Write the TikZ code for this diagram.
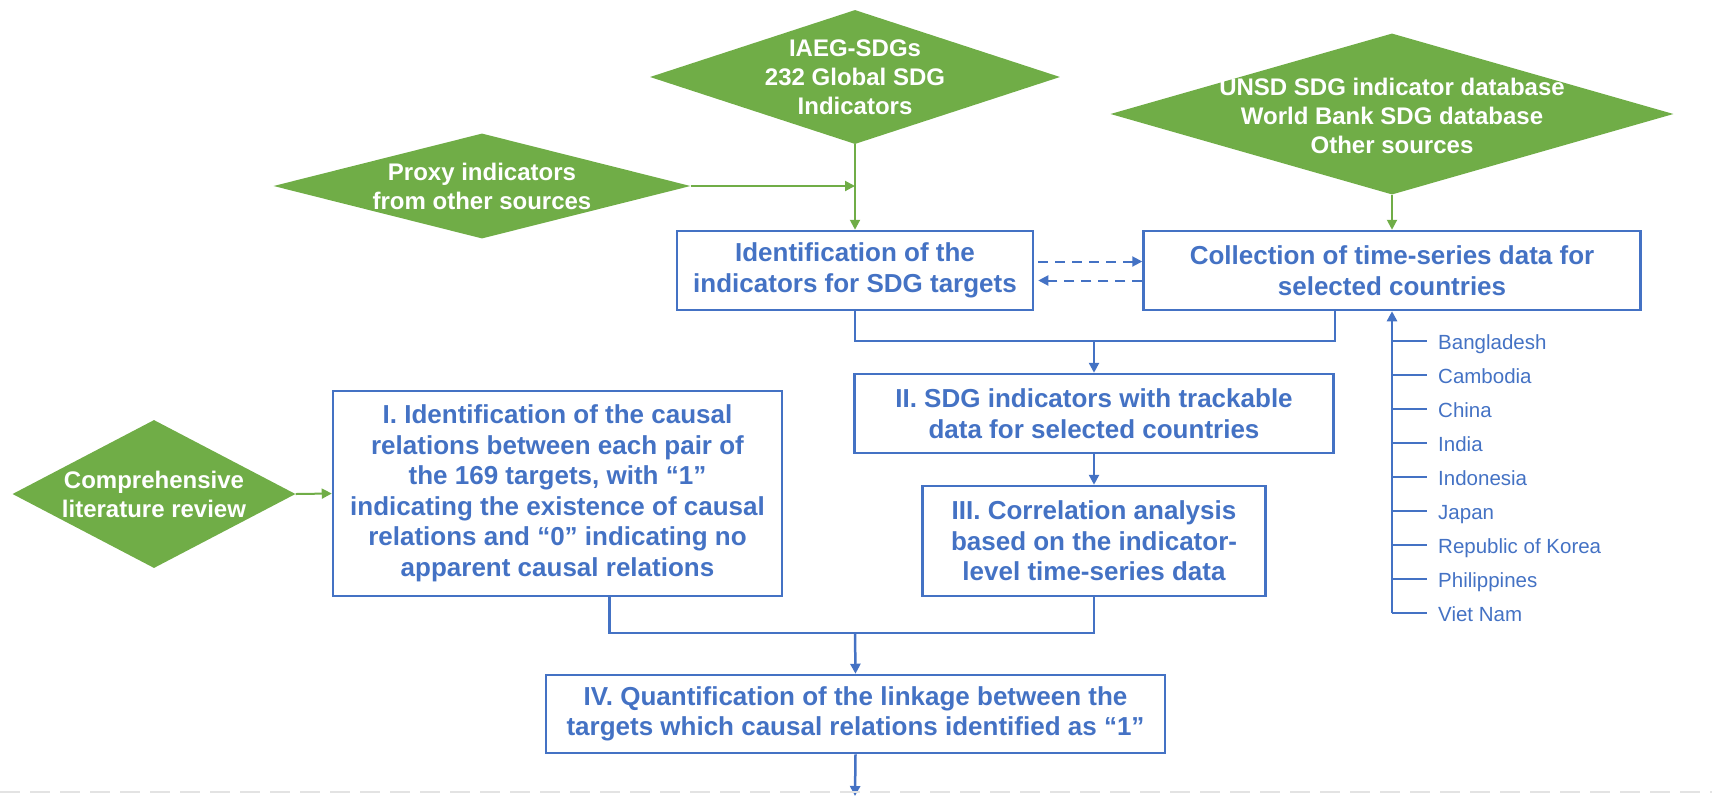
\documentclass[tikz,border=0pt]{standalone}
\usepackage{fontspec}
\setmainfont{Liberation Sans}
\usetikzlibrary{shapes.geometric,arrows.meta}
\definecolor{srcgreen}{HTML}{70AD47}
\definecolor{stepblue}{HTML}{4472C4}

\begin{document}
\begin{tikzpicture}[x=1pt, y=-1pt, >={Triangle[length=10pt,width=10pt]},
		source/.style={diamond, fill=srcgreen, inner sep=0pt},
		source text/.style={text=white, font=\fontsize{24}{29}\selectfont\bfseries, align=center},
		stage/.style={draw=stepblue, line width=2.5pt, text=stepblue, font=\fontsize{26}{30.5}\selectfont\bfseries, align=center, inner sep=0pt},
		green link/.style={draw=srcgreen, line width=2pt, ->},
		blue link/.style={draw=stepblue, line width=2.5pt},
		country/.style={text=stepblue, font=\fontsize{20.5}{24}\selectfont, anchor=west, inner xsep=11pt, inner ysep=0pt, text height=16pt, text depth=0pt}]
		
		\useasboundingbox (0,0) rectangle (1712,796);
		
		\node [source, minimum width=410pt, minimum height=134pt] (iaeg) at (855,77) {};
		\node [source text] (iaeg-text) at (iaeg) {IAEG-SDGs\\232 Global SDG\\Indicators};
		\node [source, minimum width=417pt, minimum height=105pt] (proxy) at (482,186) {};
		\node [source text] (proxy-text) at (proxy) {Proxy indicators\\from other sources};
		\node [source, minimum width=563pt, minimum height=161pt] (unsd) at (1392,114) {};
		\node [source text] (unsd-text) at ([yshift=-2pt]unsd) {UNSD SDG indicator database\\World Bank SDG database\\Other sources};
		\node [source, minimum width=283pt, minimum height=148pt] (review) at (154,494) {};
		\node [source text] (review-text) at (review) {Comprehensive\\literature review};
		
		\node [stage, minimum width=356pt, minimum height=79pt] (ident) at (855,270.5) {Identification of the\\indicators for SDG targets};
		\node [stage, minimum width=497pt, minimum height=79pt] (collect) at (1392,270.5) {Collection of time-series data for\\selected countries};
		\node [stage, minimum width=479pt, minimum height=79pt] (track) at (1094,413.5) {II.\ SDG indicators with trackable\\data for selected countries};
		\node [stage, minimum width=343pt, minimum height=110pt] (corr) at (1094,541) {III.\ Correlation analysis\\based on the indicator-\\level time-series data};
		\node [stage, minimum width=449pt, minimum height=205pt] (causal) at (557.5,493.5) {I. Identification of the causal\\relations between each pair of\\the 169 targets, with “1”\\indicating the existence of causal\\relations and “0” indicating no\\apparent causal relations};
		\node [stage, minimum width=619pt, minimum height=78pt] (quant) at (855.5,714) {IV. Quantification of the linkage between the\\targets which causal relations identified as “1”};
		
		\foreach \c [count=\y] in {Bangladesh,Cambodia,China,India,Indonesia,Japan,Republic of Korea,Philippines,Viet Nam}
		{
			\coordinate (spine-\y) at (1392,307+\y*34);
			\node [country] (country-\y) at (1427,307+\y*34) {\c};
			\draw [blue link, line width=2pt] (spine-\y) -- (country-\y.west);
		}
		\draw [blue link, ->] (spine-9) -- (collect.south);
		
		\draw [green link] (iaeg.south) -- (ident.north);
		\draw [green link] (proxy.east) -- (proxy.east -| iaeg.south);
		\draw [green link] (unsd.south) -- (collect.north);
		\draw [green link] (review.east) -- (causal.west);
		
		\draw [blue link, line width=2pt, dash pattern=on 10pt off 7pt, ->, shorten <=4pt] ([yshift=9pt]ident.east) -- ([yshift=9pt]collect.west);
		\draw [blue link, line width=2pt, dash pattern=on 10pt off 7pt, ->, shorten >=4pt] ([yshift=-10pt]collect.west) -- ([yshift=-10pt]ident.east);
		
		\coordinate (join-1) at (1094,341);
		\draw [blue link] (ident.south) |- (join-1) -| (collect.south -| track.east);
		\draw [blue link, ->] (join-1) -- (track.north);
		\draw [blue link, ->] (track.south) -- (corr.north);
		
		\coordinate (join-2) at (855,633);
		\draw [blue link] ([xshift=52pt]causal.south) |- (join-2) -| (corr.south);
		\draw [blue link, ->] (join-2) -- (quant.north);
		
		\coordinate (out) at (855,796);
		\draw [blue link, ->] (quant.south) -- (out);
		\draw [draw=gray!22, line width=2pt, dash pattern=on 20pt off 10pt] (0,792) -- (1712,792);
		
\end{tikzpicture}
\end{document}
